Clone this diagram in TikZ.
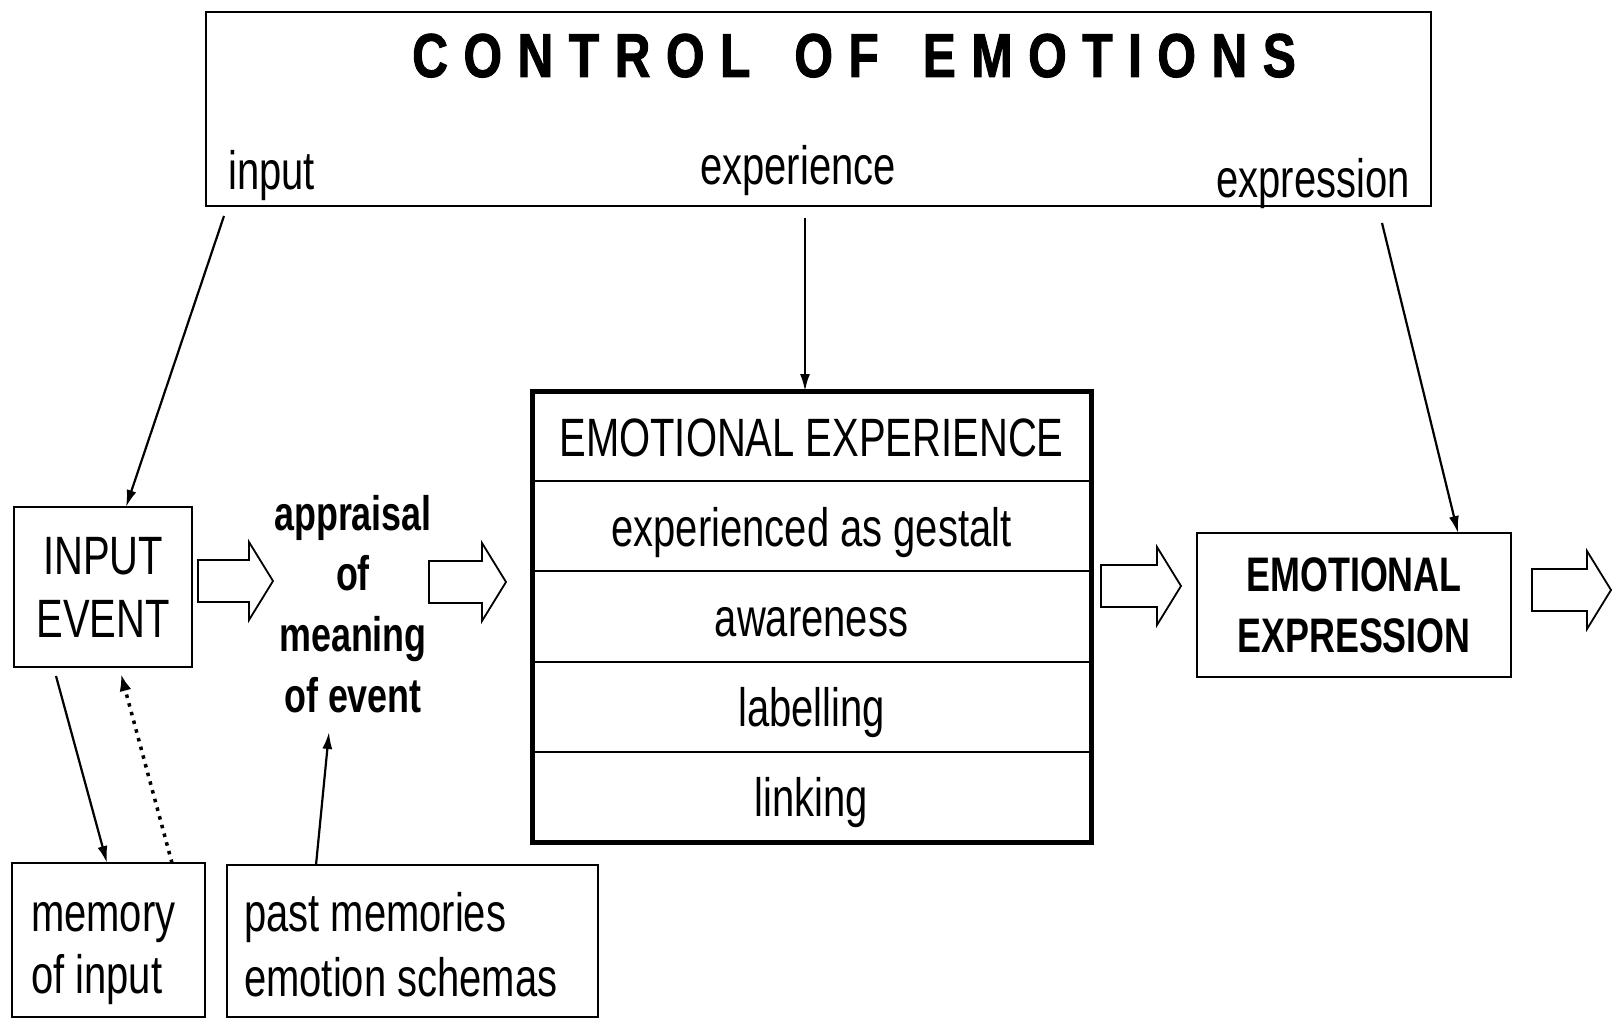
\documentclass[tikz,border=0pt]{standalone}
\usepackage{fontspec}
\setmainfont{Liberation Sans}[FakeStretch=0.74]
\newfontfamily\titlefont{Liberation Sans}[FakeStretch=0.8, FakeBold=1.5, BoldFont={* Bold}]
\usetikzlibrary{arrows.meta}
\newcommand\tk{\kern15.5pt}
\tikzset{
 regf/.style={font={\fontsize{54}{63}\selectfont}},
 boldf/.style={font={\fontsize{48.5}{60.7}\selectfont\bfseries}},
 box/.style={draw, line width=2.5pt, inner sep=0pt, outer sep=0pt, anchor=north west},
 row/.style={draw, line width=2pt, minimum width=559pt, minimum height=90.2pt, anchor=north west, inner sep=0pt, outer sep=0pt, text height=40pt, text depth=0pt, regf},
 arr/.style={line width=2.2pt, -{Latex[length=17pt,width=10pt]}},
 dotarr/.style={line width=3.5pt, dash pattern=on 3.5pt off 5.5pt, -{Latex[length=17pt,width=12pt]}},
 blockline/.style={line width=1.8pt, line join=miter},
 pics/barrow/.style={code={\draw[blockline] (0,-21) -- (#1-24,-21) -- (#1-24,-39) -- (#1,0) -- (#1-24,39) -- (#1-24,21) -- (0,21) -- cycle;}},
}
\begin{document}
\begin{tikzpicture}[x=1pt,y=-1pt]
\fill[white] (0,0) rectangle (1614,1019);
\useasboundingbox (0,0) rectangle (1614,1019);
% top control box
\node[box, minimum width=1225pt, minimum height=194pt] (ctrl) at (206,12) {};
\node[anchor=base, inner sep=0pt, font={\titlefont\fontsize{62}{62}\selectfont\bfseries}] (title) at (854,77)
 {C\tk O\tk N\tk T\tk R\tk O\tk L\hspace{44pt}O\tk F\hspace{44pt}E\tk M\tk O\tk T\tk I\tk O\tk N\tk S};
\node[anchor=base west, inner sep=0pt, regf] (linput) at (228,190) {input};
\node[anchor=base, inner sep=0pt, regf] (lexp) at (798,185) {experience};
\node[anchor=base east, inner sep=0pt, regf] (lexpr) at (1410,198) {expression};
% input event
\node[box, regf, align=center, minimum width=178pt, minimum height=160pt] (inp) at (14,507) {INPUT\\EVENT};
% appraisal
\node[anchor=north, inner sep=0pt, boldf, align=center] (app) at (353,493) {\rule{0pt}{37pt}appraisal\\of\\meaning\\of event};
% emotional experience
\node[row] (r1) at (532,391) {EMOTIONAL EXPERIENCE};
\node[row] (r2) at (r1.south west) {experienced as gestalt};
\node[row] (r3) at (r2.south west) {awareness};
\node[row] (r4) at (r3.south west) {labelling};
\node[row] (r5) at (r4.south west) {linking};
\draw[line width=5pt] (r1.north west) rectangle (r5.south east);
% emotional expression
\node[box, boldf, align=center, minimum width=314pt, minimum height=144pt] (expr) at (1197,533) {EMOTIONAL\\EXPRESSION};
% bottom boxes
\node[box, minimum width=193pt, minimum height=154pt] (mem) at (12,863) {};
\node[anchor=north west, inner sep=0pt, font={\fontsize{54}{62}\selectfont}, align=left] (memt) at (31,891) {\rule{0pt}{40pt}memory\\of input};
\node[box, minimum width=371pt, minimum height=152pt] (past) at (227,865) {};
\node[anchor=north west, inner sep=0pt, font={\fontsize{54}{65}\selectfont}, align=left] (pastt) at (244,891) {\rule{0pt}{40pt}past memories\\emotion schemas};
% block arrows
\pic at (198,581) {barrow=75};
\pic at (429,582) {barrow=77};
\pic at (1101,586) {barrow=80};
\pic at (1532,590) {barrow=79};
% connectors
\draw[arr] ([xshift=18pt,yshift=-10pt]ctrl.south west) -- ([xshift=23pt]inp.north);
\draw[arr] ([xshift=-13.5pt,yshift=-12pt]ctrl.south) -- ([xshift=-6.5pt]r1.north);
\draw[arr] ([xshift=-49pt,yshift=-17pt]ctrl.south east) -- ([xshift=104pt]expr.north);
\draw[arr] ([xshift=42pt,yshift=-9pt]inp.south west) -- ([xshift=95pt]mem.north west);
\draw[dotarr] ([xshift=160pt]mem.north west) -- ([xshift=18pt,yshift=-7pt]inp.south);
\draw[arr] ([xshift=89pt]past.north west) -- ([xshift=-24pt,yshift=-19pt]app.south);
\end{tikzpicture}
\end{document}
